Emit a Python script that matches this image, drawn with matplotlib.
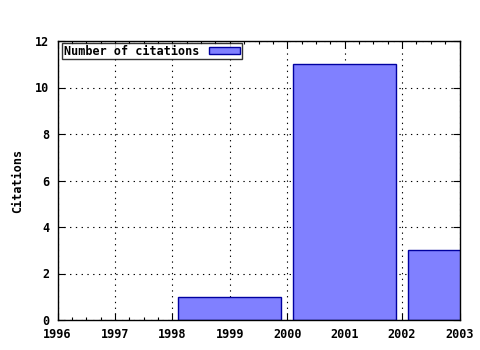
import matplotlib
matplotlib.use('Agg')
import matplotlib.pyplot as plt
from matplotlib.ticker import MultipleLocator

years = [1999, 2001, 2003]
citations = [1, 11, 3]
xticks = [1996, 1997, 1998, 1999, 2000, 2001, 2002, 2003]
yticks = [0, 2, 4, 6, 8, 10, 12]

plt.rcParams['font.family'] = 'DejaVu Sans Mono'
plt.rcParams['font.weight'] = 'bold'
plt.rcParams['axes.labelweight'] = 'bold'
plt.rcParams['font.size'] = 8.5

fig = plt.figure(figsize=(4.8, 3.5), dpi=100)
ax = fig.add_axes([57.5 / 480, 1 - 320 / 350, 402 / 480, 279 / 350])

ax.bar(years, citations, width=1.8, color='#8080ff', edgecolor='#0000a0',
       linewidth=1, label='Number of citations', zorder=2)

ax.set_xlim(1996, 2003)
ax.set_ylim(0, 12)
ax.set_xticks(xticks)
ax.set_yticks(yticks)
ax.set_xticklabels([str(x) for x in xticks])
ax.xaxis.set_minor_locator(MultipleLocator(0.25))
ax.tick_params(which='both', direction='in', top=True, right=True, width=0.8)
ax.tick_params(which='major', length=5, pad=6)
ax.tick_params(which='minor', length=2.5)
ax.tick_params(axis='y', which='minor', left=False, right=False)
ax.grid(True, linestyle=(0, (1.2, 4)), color='black', linewidth=0.8, zorder=1)
ax.set_axisbelow(True)
for s in ax.spines.values():
    s.set_linewidth(1)
    s.set_zorder(3)

ax.set_ylabel('Citations', labelpad=8)

leg = ax.legend(loc='upper left', bbox_to_anchor=(0.012, 0.993), frameon=True,
                fancybox=False, borderpad=0.15, handlelength=2.65, handleheight=0.5,
                handletextpad=0.8, borderaxespad=0, markerfirst=False)
leg.get_frame().set_edgecolor('black')
leg.get_frame().set_linewidth(1)

fig.savefig('out.png', dpi=100)
